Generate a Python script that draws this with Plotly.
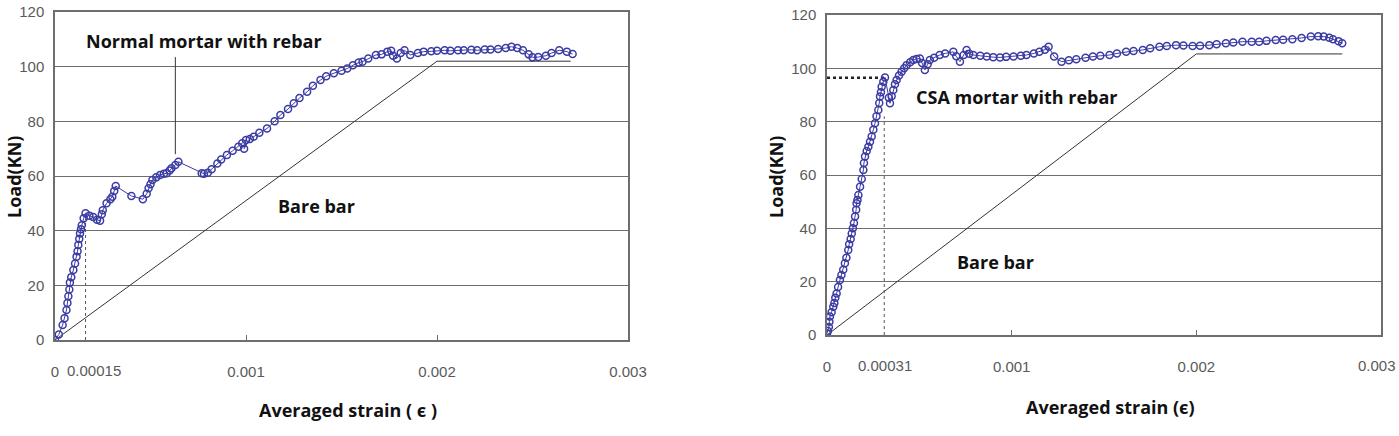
import plotly.graph_objects as go

# ---------------- data ----------------
normal_strain = [0, 0.00002, 0.00004, 0.00005, 0.00006, 0.000065, 0.00007, 0.000075, 0.000078, 0.000085,
                 0.000096, 0.000105, 0.000113, 0.000118, 0.000122, 0.000127, 0.000131, 0.000136, 0.00014, 0.00015,
                 0.00016, 0.00018, 0.0002, 0.00022, 0.000236, 0.000245, 0.00025, 0.00027, 0.00029, 0.0003,
                 0.00031, 0.000318, 0.0004, 0.00046, 0.00048, 0.00049, 0.0005, 0.00051, 0.00053, 0.00055,
                 0.00057, 0.000585, 0.0006, 0.00061, 0.00063, 0.000646, 0.000768, 0.00078, 0.0008, 0.00082,
                 0.00085, 0.00087, 0.0009, 0.00093, 0.00096, 0.00098, 0.001, 0.00099, 0.00102, 0.00104,
                 0.00107, 0.00111, 0.00115, 0.00118, 0.00122, 0.00125, 0.00128, 0.00132, 0.00135, 0.00139,
                 0.00142, 0.00146, 0.0015, 0.00153, 0.00156, 0.00159, 0.00161, 0.00164, 0.00168, 0.00171,
                 0.00174, 0.00176, 0.00177, 0.00179, 0.00181, 0.00183, 0.00186, 0.0019, 0.00193, 0.00197,
                 0.002, 0.00204, 0.00207, 0.00211, 0.00214, 0.00218, 0.00221, 0.00225, 0.00228, 0.00232,
                 0.00236, 0.00239, 0.00242, 0.00245, 0.00248, 0.0025, 0.00253, 0.00257, 0.0026, 0.00264,
                 0.00268, 0.00271]
normal_load = [0, 2, 5.5, 8, 11, 13.5, 16, 18.5, 21, 23,
               25.6, 28, 30.5, 32.5, 34.8, 37, 39, 40.5, 42, 44.5,
               46.4, 45.5, 45, 44, 43.6, 46, 47.5, 50, 51.5, 52.4,
               54.5, 56.3, 52.7, 51.5, 53.5, 55.5, 57, 58.5, 59.5, 60.4,
               60.8, 61, 62, 62.8, 64, 65.2, 61, 60.8, 61.2, 62.5,
               64.6, 66, 67.7, 69.2, 70.7, 72, 73.2, 70, 73.5, 74.4,
               75.8, 77.4, 80, 82.3, 84.5, 86.6, 88.5, 90.8, 93, 95.1,
               96.5, 97.6, 98.5, 99.3, 100.5, 101.5, 101.8, 103, 104.3, 104.5,
               105.5, 105.8, 104, 103, 105, 106, 104.3, 105, 105.5, 105.6,
               105.8, 106, 105.8, 106, 106, 106.2, 106, 106.3, 106.3, 106.5,
               106.8, 107.3, 106.8, 106, 104.5, 103.4, 103.5, 104, 105, 106,
               105.5, 104.6]

csa_strain = [0, 0.000005, 0.00001, 0.000013, 0.000016, 0.000025, 0.000034, 0.00004, 0.000045, 0.000052,
              0.00006, 0.00007, 0.000078, 0.000088, 0.000097, 0.000105, 0.000115, 0.00012, 0.000128, 0.000134,
              0.00014, 0.000146, 0.000152, 0.000158, 0.00016, 0.000165, 0.00017, 0.000179, 0.000188, 0.000197,
              0.0002, 0.000206, 0.000215, 0.000224, 0.000233, 0.000242, 0.000251, 0.00026, 0.000268, 0.000278,
              0.000283, 0.000287, 0.000292, 0.000296, 0.000305, 0.000314, 0.000335, 0.000341, 0.00035, 0.000359,
              0.000368, 0.000377, 0.00039, 0.000404, 0.000418, 0.000431, 0.00045, 0.000467, 0.000485, 0.000503,
              0.000515, 0.00053, 0.000545, 0.000557, 0.00058, 0.00061, 0.00064, 0.000684, 0.0007, 0.00072,
              0.00074, 0.000756, 0.00077, 0.000792, 0.00083, 0.000865, 0.0009, 0.000937, 0.00097, 0.00101,
              0.00105, 0.00108, 0.00112, 0.00115, 0.00118, 0.0012, 0.00123, 0.00127, 0.00131, 0.00135,
              0.0014, 0.00144, 0.00148, 0.00153, 0.00157, 0.00162, 0.00166, 0.00171, 0.00175, 0.0018,
              0.00184, 0.00189, 0.00193, 0.00198, 0.00202, 0.00207, 0.00211, 0.00216, 0.0022, 0.00225,
              0.0023, 0.00234, 0.00238, 0.00243, 0.00247, 0.00252, 0.00257, 0.00262, 0.00266, 0.00269,
              0.00272, 0.00274, 0.00277, 0.00279]
csa_load = [0.6, 1.5, 3, 5, 6.9, 8.5, 10.6, 12, 14, 15.6,
            18, 20.6, 22.5, 24.5, 26.9, 29, 31.9, 34, 36, 38.1,
            40, 42, 44.4, 47, 49.4, 50.6, 52.5, 55.6, 58.5, 61.9,
            64.5, 66.9, 69, 70.6, 72.5, 74.4, 77, 79.4, 82, 84.4,
            87, 89.4, 91, 93.1, 95, 96.6, 89, 86.9, 89.5, 91.9,
            94, 95.6, 97.3, 98.7, 100, 101.2, 102.3, 103.1, 103.5, 103.7,
            102, 99.4, 101.5, 103.1, 104, 105, 105.6, 106.2, 104.5, 102.5,
            105, 106.9, 105.5, 105, 104.7, 104.4, 104.2, 104.1, 104.3, 104.4,
            104.7, 105, 105.6, 106.2, 107, 108.1, 104.4, 102.5, 103, 103.4,
            104, 104.4, 104.7, 105, 105.6, 106.2, 106.5, 106.9, 107.5, 108.1,
            108.4, 108.7, 108.6, 108.4, 108.5, 108.7, 109, 109.4, 109.7, 110,
            110, 110, 110.3, 110.6, 110.7, 110.9, 111.4, 111.9, 112, 111.9,
            111.5, 110.9, 110.2, 109.4]

bare_left_strain = [0, 0.002, 0.0027]
bare_left_load = [0, 102, 102]
bare_right_strain = [0, 0.002, 0.00279]
bare_right_load = [0, 105.4, 105.4]

x_tick_vals = [0, 0.001, 0.002, 0.003]
x_tick_text = ["0", "0.001", "0.002", "0.003"]
y_tick_vals = [0, 20, 40, 60, 80, 100, 120]

left_mark_strain = 0.00016   # dotted vertical, labelled 0.00015
left_mark_load = 45
right_mark_strain = 0.00031
right_mark_load_v = 82
right_mark_load_h = 96.5

# ---------------- style ----------------
W, H = 1399, 436
MARK = "#3b3ba4"
GRID = "#6e6e6e"
TICKFONT = dict(family="Liberation Sans Narrow, Arial Narrow, Liberation Sans, Arial", size=15, color="#5a5a5a")
BOLD = dict(family="Open Sans, Noto Sans, DejaVu Sans", size=18, color="#111111", weight="bold")

fig = go.Figure()

def series(x, y, xa, ya):
    fig.add_trace(go.Scatter(
        x=x, y=y, xaxis=xa, yaxis=ya, mode="lines+markers",
        line=dict(color=MARK, width=1),
        marker=dict(symbol="circle-open", size=7, color=MARK, line=dict(width=1.5, color=MARK)),
        showlegend=False, hoverinfo="skip"))

def plain(x, y, xa, ya, width=1, dash="solid", color="#333333"):
    fig.add_trace(go.Scatter(
        x=x, y=y, xaxis=xa, yaxis=ya, mode="lines",
        line=dict(color=color, width=width, dash=dash),
        showlegend=False, hoverinfo="skip"))

# left panel
plain(bare_left_strain, bare_left_load, "x", "y", width=1)
plain([left_mark_strain, left_mark_strain], [0, left_mark_load], "x", "y", width=1, dash="dot", color="#555555")
series(normal_strain, normal_load, "x", "y")

# right panel
plain(bare_right_strain, bare_right_load, "x2", "y2", width=1)
plain([right_mark_strain, right_mark_strain], [0, right_mark_load_v], "x2", "y2", width=1, dash="dot", color="#555555")
plain([0, right_mark_strain], [right_mark_load_h, right_mark_load_h], "x2", "y2", width=2.5, dash="dot", color="#222222")
series(csa_strain, csa_load, "x2", "y2")

def xaxis(domain, anchor, nlab):
    return dict(domain=domain, anchor=anchor, range=[0, 0.003], tickvals=x_tick_vals[:nlab], ticktext=x_tick_text[:nlab],
                showgrid=False, zeroline=False, showline=True, mirror=True, linecolor=GRID, linewidth=1.5,
                ticks="inside", ticklen=5, tickcolor=GRID, tickfont=TICKFONT, ticklabelstandoff=17,
                automargin=False)

def yaxis(domain, anchor):
    return dict(domain=domain, anchor=anchor, range=[0, 120], tickvals=y_tick_vals,
                showgrid=True, gridcolor=GRID, gridwidth=1.3, zeroline=False,
                showline=True, mirror=True, linecolor=GRID, linewidth=1.5,
                ticks="inside", ticklen=4, tickcolor=GRID, tickfont=TICKFONT, ticklabelstandoff=6,
                automargin=False)

fig.update_layout(
    width=W, height=H, margin=dict(l=0, r=0, t=0, b=0, autoexpand=False),
    paper_bgcolor="white", plot_bgcolor="white",
    xaxis=xaxis([55 / W, 628 / W], "y", 4),
    yaxis=yaxis([(H - 340) / H, (H - 12) / H], "x"),
    xaxis2=xaxis([827 / W, 1381 / W], "y2", 3),
    yaxis2=yaxis([(H - 335) / H, (H - 15) / H], "x2"),
)

# pointer line for the left label
fig.add_shape(type="line", xref="x", yref="y", x0=0.00063, x1=0.00063, y0=68, y1=103.5,
              line=dict(color="#333333", width=1))

def label(text, px, py, font, angle=0, anchor="center"):
    return dict(text=text, x=px / W, y=(H - py) / H, xref="paper", yref="paper",
                xanchor=anchor, yanchor="middle", showarrow=False, textangle=angle, font=font)

ann = [
    label("Normal mortar with rebar", 204, 41, BOLD),
    label("Bare bar", 316, 206, BOLD),
    label("CSA mortar with rebar", 1016, 97, BOLD),
    label("Bare bar", 995, 262, BOLD),
    label("Load(KN)", 14, 177, BOLD, -90),
    label("Load(KN)", 776, 177, BOLD, -90),
    label("Averaged strain ( ϵ )", 348, 410, BOLD),
    label("Averaged strain (ϵ)", 1110, 407, BOLD),
    label("0.00015", 94, 370, TICKFONT),
    label("0.00031", 885, 365, TICKFONT),
    label(x_tick_text[3], 1398, 365, TICKFONT, anchor="right"),
]
fig.update_layout(annotations=ann)

fig.write_html("out.html")
